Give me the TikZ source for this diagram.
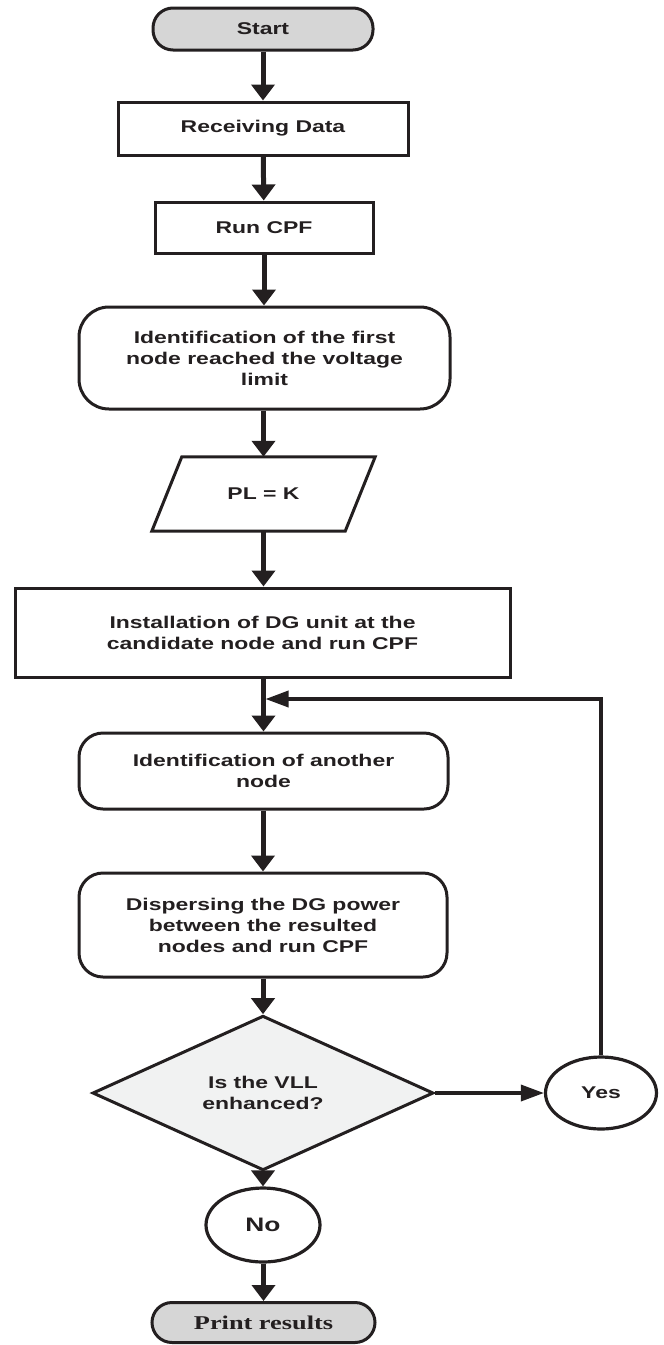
\documentclass[tikz,border=0pt]{standalone}
\usepackage{fontspec}
\setmainfont{Liberation Sans}[FakeStretch=1.35]
\newfontfamily\serifbold{Liberation Serif}[FakeStretch=1.35]
\usetikzlibrary{arrows.meta,shapes.geometric}

\definecolor{ink}{HTML}{231F20}
\definecolor{termgray}{HTML}{D6D6D6}
\definecolor{decgray}{HTML}{F1F2F2}

\begin{document}
\begin{tikzpicture}[x=1pt,y=-1pt,
  every node/.style={font=\fontsize{17}{21}\selectfont\bfseries, text=ink,
                     align=center, inner sep=0pt},
  boxline/.style={draw=ink, line width=3pt},
  terminal/.style={boxline, fill=termgray, rounded corners=20pt},
  procbox/.style={boxline, rectangle},
  roundbox/.style={boxline, rectangle, rounded corners=24pt},
  answer/.style={boxline, ellipse, line width=3.2pt},
  flow/.style={draw=ink, line width=5pt, -{Triangle[width=23pt,length=16pt]}},
  sideflow/.style={draw=ink, line width=3.5pt, -{Triangle[width=16pt,length=23pt]}},
]
\useasboundingbox (0,0) rectangle (664,1345);

% process chain
\node[terminal, minimum width=220pt, minimum height=42pt] (start) at (263,29) {Start};
\node[procbox, minimum width=290pt, minimum height=53pt] (recv) at (263,128.5) {Receiving Data};
\node[procbox, minimum width=218pt, minimum height=51pt] (cpf) at (264,227.5) {Run CPF};
\node[roundbox, rounded corners=30pt, minimum width=371pt, minimum height=102pt] (first) at (264.5,358)
  {Identification of the first\\node reached the voltage\\limit};

% input / output step
\node[minimum width=223pt, minimum height=74pt] (pl) at (263.5,494) {PL = K};
\draw[boxline, line join=miter] (pl.south west) -- ([xshift=30pt]pl.north west) -- (pl.north east)
  -- ([xshift=-30pt]pl.south east) -- cycle;

\node[procbox, minimum width=495pt, minimum height=89pt] (install) at (262.5,632.5)
  {Installation of DG unit at the\\candidate node and run CPF};
\node[roundbox, minimum width=369pt, minimum height=76pt] (another) at (263.5,771)
  {Identification of another\\node};
\node[roundbox, minimum width=368pt, minimum height=104pt] (disperse) at (263,925)
  {Dispersing the DG power\\between the resulted\\nodes and run CPF};

% decision and its outcomes
\node[boxline, diamond, fill=decgray, minimum width=341pt, minimum height=124pt] (vll) at (263,1093)
  {Is the VLL\\enhanced?};
\node[answer, minimum width=111pt, minimum height=72pt] (yes) at (601,1093) {Yes};
\node[answer, minimum width=114pt, minimum height=74pt,
      font=\fontsize{19.5}{22}\selectfont\bfseries] (no) at (263,1225) {No};
\node[terminal, minimum width=223pt, minimum height=40pt,
      font=\fontsize{19.5}{22}\selectfont\serifbold\bfseries] (print) at (263.5,1322.5) {Print results};

% connectors
\draw[flow] (start) -- (recv);
\draw[flow] (recv) -- (cpf);
\draw[flow] (cpf.south) -- (cpf.south |- first.north);
\draw[flow] (first.south -| pl.north) -- (pl.north);
\draw[flow] (pl.south) -- (pl.south |- install.north);
\draw[flow] (install.south -| another.north) -- (another.north);
\draw[flow] (another.south -| disperse.north) -- (disperse.north);
\draw[flow] (disperse.south -| vll.north) -- (vll.north);
\draw[sideflow] (vll.east) -- (yes.west);
\draw[flow] (vll.south) -- (no.north);
\draw[flow] (no.south -| print.north) -- (print.north);

% loop back from "Yes"
\coordinate (rejoin) at (265.5,699);
\draw[sideflow] (yes.north) |- (rejoin);
\end{tikzpicture}
\end{document}
